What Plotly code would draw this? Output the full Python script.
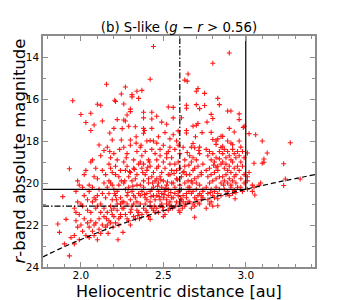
import plotly.graph_objects as go

# ---------------- data ----------------
# heliocentric distance [au] and r-band absolute magnitude of S-like objects
dist_a = [1.86, 1.87, 1.89, 1.90, 1.91, 1.93, 1.93, 1.94]
mag_a = [21.95, 22.35, 20.65, 22.9, 21.73, 23.47, 19.32, 22.6]

dist_b = [1.95, 1.96, 1.96, 1.97, 1.97, 1.98, 1.98, 1.99, 1.99, 2.00,
          2.00, 2.01, 2.01, 2.02, 2.02, 2.03, 2.03, 2.04, 2.04, 2.05,
          1.96, 1.98, 2.00, 2.02, 2.04, 1.97, 1.99, 2.01, 2.03, 2.05]
mag_b = [16.08, 21.2, 22.5, 20.4, 21.8, 22.1, 20.9, 21.5, 22.7, 16.74,
         21.0, 22.3, 20.2, 21.7, 19.6, 17.12, 22.5, 20.8, 21.3, 22.1,
         22.9, 19.9, 22.0, 20.6, 21.9, 21.4, 20.1, 21.1, 19.4, 20.4]

dist_c = [2.06, 2.10, 2.12, 2.06, 2.08, 2.13, 2.11, 2.14, 2.07, 2.09,
          2.05, 2.06, 2.07, 2.08, 2.09, 2.10, 2.11, 2.12, 2.13, 2.14,
          2.15, 2.05, 2.07, 2.09, 2.11, 2.13, 2.15, 2.06, 2.08, 2.10,
          2.12, 2.14, 2.06, 2.08, 2.10, 2.12, 2.14, 2.07, 2.09, 2.11,
          2.13, 2.15, 2.10, 2.12, 2.08]
mag_c = [16.68, 16.25, 16.3, 17.5, 17.24, 17.05, 18.19, 18.45, 18.9, 19.3,
         20.1, 21.4, 22.3, 20.7, 21.9, 19.8, 22.2, 21.0, 20.5, 21.6,
         22.1, 22.6, 20.9, 21.2, 20.3, 22.0, 19.6, 21.8, 22.5, 20.6,
         21.4, 20.0, 19.0, 19.7, 21.1, 22.4, 21.2, 20.2, 20.8, 21.7,
         19.4, 20.7, 22.7, 18.7, 22.0]

dist_d = [2.155, 2.205, 2.21, 2.245, 2.22, 2.175, 2.19, 2.245, 2.20, 2.25,
          2.175, 2.16, 2.17, 2.18, 2.19, 2.20, 2.21, 2.22, 2.23, 2.24,
          2.16, 2.17, 2.18, 2.19, 2.20, 2.21, 2.22, 2.23, 2.24, 2.25,
          2.16, 2.18, 2.20, 2.22, 2.24, 2.17, 2.19, 2.21, 2.23, 2.25,
          2.16, 2.18, 2.20, 2.22, 2.24, 2.165, 2.225, 2.23, 2.17, 2.19,
          2.21, 2.235, 2.185, 2.215, 2.245, 2.195, 2.155, 2.205, 2.24, 2.18]
mag_d = [15.3, 16.06, 16.12, 15.76, 16.98, 17.62, 17.95, 17.95, 17.4, 17.41,
         18.5, 18.3, 19.1, 18.8, 19.5, 18.6, 19.2, 18.9, 19.7, 19.4,
         20.2, 20.5, 20.0, 20.8, 20.3, 20.6, 21.0, 20.1, 20.7, 21.2,
         21.4, 21.1, 21.6, 21.3, 21.0, 21.8, 21.5, 21.9, 21.7, 20.9,
         22.0, 21.9, 21.2, 20.4, 21.5, 22.4, 22.7, 22.0, 19.9, 20.1,
         19.6, 18.4, 21.3, 20.8, 19.9, 22.1, 21.7, 20.5, 21.6, 19.3]

dist_e = [2.27, 2.26, 2.31, 2.31, 2.34, 2.35, 2.30, 2.30, 2.26, 2.27,
          2.28, 2.29, 2.33, 2.30, 2.335, 2.26, 2.28, 2.30, 2.32, 2.34,
          2.26, 2.27, 2.28, 2.29, 2.30, 2.31, 2.32, 2.33, 2.34, 2.35,
          2.26, 2.27, 2.28, 2.29, 2.30, 2.31, 2.32, 2.33, 2.34, 2.35,
          2.26, 2.28, 2.30, 2.32, 2.34, 2.27, 2.29, 2.31, 2.33, 2.35,
          2.26, 2.28, 2.30, 2.32, 2.34, 2.255, 2.275, 2.295, 2.315, 2.335,
          2.345, 2.265, 2.285, 2.305, 2.325]
mag_e = [15.43, 16.24, 15.79, 15.9, 15.63, 15.97, 16.48, 16.6, 17.0, 17.05,
         16.76, 17.3, 17.32, 17.95, 17.8, 18.3, 18.6, 18.2, 18.9, 18.5,
         19.0, 19.4, 19.2, 19.7, 19.5, 19.9, 19.3, 19.8, 19.6, 19.1,
         20.0, 20.3, 20.6, 20.2, 20.8, 20.4, 21.0, 20.7, 20.1, 20.5,
         21.2, 21.0, 21.4, 21.6, 21.3, 21.5, 21.8, 21.1, 21.7, 21.4,
         20.9, 21.7, 22.0, 20.6, 20.9, 22.35, 18.8, 19.45, 20.15, 18.1,
         21.55, 19.9, 20.45, 21.25, 19.35]

dist_f = [2.37, 2.42, 2.38, 2.38, 2.43, 2.43, 2.38, 2.385, 2.43, 2.38,
          2.40, 2.42, 2.44, 2.36, 2.37, 2.39, 2.41, 2.43, 2.45, 2.36,
          2.37, 2.38, 2.39, 2.40, 2.41, 2.42, 2.43, 2.44, 2.45, 2.36,
          2.37, 2.38, 2.39, 2.40, 2.41, 2.42, 2.43, 2.44, 2.45, 2.36,
          2.38, 2.40, 2.42, 2.44, 2.37, 2.39, 2.41, 2.43, 2.45, 2.36,
          2.38, 2.40, 2.42, 2.44, 2.355, 2.375, 2.395, 2.415, 2.435, 2.445,
          2.365, 2.385, 2.405, 2.425, 2.42]
mag_f = [15.59, 15.06, 16.63, 16.9, 16.63, 16.95, 17.4, 17.5, 17.4, 17.63,
         18.0, 17.98, 18.0, 18.3, 18.7, 18.5, 18.9, 18.4, 18.6, 19.0,
         19.3, 19.1, 19.6, 19.4, 19.8, 19.2, 19.7, 19.5, 19.9, 20.1,
         20.4, 20.2, 20.7, 20.5, 20.0, 20.9, 20.3, 20.6, 20.8, 21.0,
         21.2, 21.4, 21.1, 21.3, 21.5, 21.0, 21.6, 21.2, 21.4, 20.6,
         19.9, 20.8, 20.4, 20.2, 21.7, 19.5, 21.3, 19.0, 20.0, 21.1,
         18.2, 20.55, 19.25, 20.65, 21.73]

dist_g = [2.46, 2.47, 2.53, 2.49, 2.51, 2.52, 2.54, 2.46, 2.48, 2.50,
          2.52, 2.54, 2.46, 2.47, 2.48, 2.49, 2.50, 2.51, 2.52, 2.53,
          2.54, 2.55, 2.46, 2.47, 2.48, 2.49, 2.50, 2.51, 2.52, 2.53,
          2.54, 2.55, 2.46, 2.47, 2.48, 2.49, 2.50, 2.51, 2.52, 2.53,
          2.54, 2.55, 2.46, 2.48, 2.50, 2.52, 2.54, 2.47, 2.49, 2.51,
          2.53, 2.55, 2.465, 2.485, 2.505, 2.525, 2.545, 2.475, 2.495, 2.515,
          2.535, 2.46, 2.50, 2.53]
mag_g = [16.82, 17.8, 16.38, 17.1, 17.6, 17.2, 17.9, 18.1, 18.4, 18.2,
         18.6, 18.3, 18.9, 19.2, 18.7, 19.5, 19.0, 19.3, 18.8, 19.6,
         19.1, 19.4, 19.8, 20.0, 19.7, 20.2, 19.9, 20.4, 20.1, 20.3,
         19.6, 20.0, 20.6, 20.4, 20.8, 20.5, 20.7, 20.3, 21.0, 20.6,
         20.9, 21.1, 21.2, 21.1, 21.3, 20.8, 21.2, 21.4, 21.0, 21.5,
         21.3, 20.7, 20.15, 19.85, 20.55, 19.95, 20.45, 20.65, 21.15, 20.25,
         21.05, 19.3, 21.6, 18.5]

dist_h = [2.56, 2.56, 2.59, 2.59, 2.61, 2.63, 2.645, 2.65, 2.64, 2.64,
          2.64, 2.64, 2.56, 2.57, 2.58, 2.60, 2.62, 2.63, 2.55, 2.57,
          2.58, 2.59, 2.60, 2.61, 2.62, 2.63, 2.64, 2.65, 2.56, 2.57,
          2.58, 2.59, 2.60, 2.61, 2.62, 2.63, 2.64, 2.65, 2.56, 2.57,
          2.58, 2.59, 2.60, 2.61, 2.62, 2.63, 2.64, 2.65, 2.555, 2.575,
          2.595, 2.615, 2.635, 2.655, 2.565, 2.585, 2.605, 2.625, 2.645, 2.60]
mag_h = [16.4, 16.9, 17.52, 18.2, 16.89, 15.1, 15.15, 14.81, 16.3, 16.44,
         17.5, 17.62, 17.7, 18.4, 18.0, 18.6, 18.3, 18.9, 18.8, 19.1,
         19.4, 19.0, 19.3, 19.7, 19.5, 19.2, 19.6, 19.9, 20.0, 20.2,
         19.8, 20.4, 20.1, 20.3, 20.6, 20.0, 20.5, 20.2, 20.7, 20.5,
         20.9, 20.6, 21.0, 20.8, 20.9, 21.1, 20.7, 20.9, 21.2, 21.1,
         21.3, 21.2, 21.0, 20.4, 19.55, 19.85, 20.75, 19.45, 18.55, 21.4]

dist_i = [2.70, 2.71, 2.70, 2.72, 2.75, 2.75, 2.68, 2.70, 2.71, 2.68,
          2.67, 2.69, 2.72, 2.69, 2.66, 2.67, 2.68, 2.69, 2.70, 2.71,
          2.72, 2.73, 2.74, 2.66, 2.67, 2.68, 2.69, 2.70, 2.71, 2.72,
          2.73, 2.74, 2.66, 2.67, 2.68, 2.69, 2.70, 2.71, 2.72, 2.73,
          2.74, 2.66, 2.68, 2.70, 2.72, 2.74, 2.67, 2.69, 2.71, 2.73,
          2.655, 2.675, 2.695, 2.715, 2.735]
mag_i = [15.63, 15.5, 16.27, 16.46, 16.31, 15.73, 17.29, 17.25, 17.17, 18.12,
         18.29, 18.32, 18.29, 21.63, 18.7, 19.0, 18.8, 19.3, 18.9, 19.2,
         18.6, 19.5, 19.1, 19.6, 19.9, 19.4, 19.8, 20.0, 19.7, 20.1,
         19.6, 20.3, 20.2, 20.5, 20.4, 20.7, 20.3, 20.6, 20.5, 20.8,
         20.4, 20.9, 21.0, 20.8, 21.0, 20.7, 21.2, 21.1, 20.95, 20.6,
         19.15, 20.0, 17.8, 18.45, 17.6]

dist_j = [2.76, 2.79, 2.80, 2.79, 2.80, 2.80, 2.83, 2.84, 2.82, 2.85,
          2.83, 2.82, 2.85, 2.83, 2.76, 2.77, 2.78, 2.79, 2.80, 2.81,
          2.82, 2.83, 2.84, 2.85, 2.76, 2.77, 2.78, 2.79, 2.80, 2.81,
          2.82, 2.83, 2.84, 2.85, 2.76, 2.77, 2.78, 2.79, 2.80, 2.81,
          2.82, 2.83, 2.84, 2.85, 2.77, 2.79, 2.81, 2.83, 2.78, 2.80,
          2.82, 2.84, 2.765, 2.785, 2.805]
mag_j = [21.2, 16.73, 16.93, 17.59, 17.93, 14.3, 15.97, 16.27, 18.16, 17.78,
         17.9, 18.0, 18.31, 21.08, 18.4, 18.7, 18.5, 18.9, 18.6, 19.0,
         18.8, 19.2, 18.5, 19.1, 19.4, 19.7, 19.3, 19.6, 19.9, 19.5,
         19.8, 19.4, 19.7, 20.0, 20.2, 20.5, 20.0, 20.3, 20.6, 20.4,
         20.2, 20.5, 20.3, 20.6, 20.8, 20.9, 20.7, 20.75, 21.0, 21.1,
         19.25, 18.85, 17.1, 20.45, 19.15]

dist_k = [2.86, 2.86, 2.89, 2.91, 2.90, 2.93, 2.89, 2.91, 2.92, 2.90,
          2.86, 2.87, 2.88, 2.89, 2.90, 2.91, 2.92, 2.93, 2.94, 2.95,
          2.86, 2.87, 2.88, 2.89, 2.90, 2.91, 2.92, 2.93, 2.94, 2.95,
          2.86, 2.87, 2.88, 2.89, 2.90, 2.91, 2.92, 2.93, 2.94, 2.95,
          2.87, 2.89, 2.91, 2.93, 2.88, 2.90, 2.92, 2.94, 2.865, 2.935]
mag_k = [17.78, 18.25, 16.57, 16.57, 17.4, 17.57, 18.0, 18.1, 18.18, 13.81,
         18.6, 18.4, 18.8, 18.5, 18.7, 18.9, 18.4, 18.6, 18.8, 18.5,
         19.0, 19.3, 19.1, 19.4, 19.2, 19.5, 19.0, 19.3, 19.6, 19.2,
         19.7, 19.9, 19.6, 20.0, 19.8, 20.1, 19.9, 19.7, 20.0, 20.2,
         20.3, 20.4, 20.2, 20.35, 20.55, 20.6, 20.5, 20.45, 20.1, 20.75]

dist_l = [2.96, 2.96, 2.99, 2.985, 2.96, 2.97, 3.02, 3.01, 3.05, 3.01,
          3.01, 3.02, 3.04, 3.05, 3.055, 3.04, 3.01, 2.96, 2.97, 2.98,
          2.99, 2.96, 2.97, 2.98, 2.99, 2.97, 2.98, 2.99]
mag_l = [16.71, 16.98, 17.3, 17.36, 18.0, 18.29, 17.65, 18.57, 19.06, 19.7,
         19.9, 19.5, 20.1, 20.2, 20.57, 20.4, 20.3, 18.7, 19.0, 18.5,
         18.8, 19.4, 19.8, 19.2, 20.0, 20.2, 20.4, 19.6]

dist_m = [3.06, 3.10, 3.27, 3.13, 3.10, 3.11, 3.11, 3.23, 3.24, 3.33,
          3.23, 3.09, 3.08, 2.44]
mag_m = [17.7, 18.0, 18.08, 18.57, 19.06, 19.01, 18.86, 19.08, 19.81, 19.81,
         20.12, 20.0, 20.1, 13.5]

# detection-limit curve (dashed)
limit_r = [1.77, 1.8, 1.9, 2.0, 2.1, 2.2, 2.3, 2.4, 2.5, 2.6, 2.7, 2.8,
           2.9, 3.0, 3.1, 3.2, 3.3, 3.42]
limit_H = [23.52, 23.40, 23.03, 22.69, 22.37, 22.08, 21.81, 21.56, 21.32,
           21.10, 20.88, 20.68, 20.48, 20.30, 20.12, 19.95, 19.79, 19.60]

# sample boundaries
x_min, x_max = 1.77, 3.42
y_faint, y_bright = 24, 13
solid_r, solid_H = 3.0, 20.3
dashdot_r, dashdot_H = 2.6, 21.1

title_text = "(b) S-like (<i>g</i> − <i>r</i> > 0.56)"
x_title = "Heliocentric distance [au]"
y_title = "<i>r</i>-band absolute magnitude"

dist = (dist_a + dist_b + dist_c + dist_d + dist_e + dist_f + dist_g
        + dist_h + dist_i + dist_j + dist_k + dist_l + dist_m)
mag = (mag_a + mag_b + mag_c + mag_d + mag_e + mag_f + mag_g
       + mag_h + mag_i + mag_j + mag_k + mag_l + mag_m)
assert len(dist) == len(mag), (len(dist), len(mag))

FONT = "DejaVu Sans"
AXC = "#8c8c8c"

fig = go.Figure()

fig.add_trace(go.Scatter(
    x=dist, y=mag, mode="markers",
    marker=dict(symbol="cross-thin", size=3.6, color="red",
                line=dict(color="red", width=1.1)),
    opacity=0.9, showlegend=False, hoverinfo="skip"))

# detection limit (dashed)
fig.add_trace(go.Scatter(
    x=limit_r, y=limit_H, mode="lines", line_shape="spline",
    line=dict(color="black", width=1.2, dash="5px,3px"),
    showlegend=False, hoverinfo="skip"))

# solid boundary
fig.add_trace(go.Scatter(
    x=[x_min, solid_r, solid_r], y=[solid_H, solid_H, y_bright],
    mode="lines", line=dict(color="black", width=1.2),
    showlegend=False, hoverinfo="skip"))

# dash-dot boundary
fig.add_trace(go.Scatter(
    x=[x_min, dashdot_r, dashdot_r], y=[dashdot_H, dashdot_H, y_bright],
    mode="lines", line=dict(color="black", width=1.2, dash="6px,2px,1.5px,2px"),
    showlegend=False, hoverinfo="skip"))

# page body adds an 8px offset; margins compensate so the plot box sits at
# x 43..315, y 36..267 in the window
fig.update_layout(
    width=350, height=300,
    margin=dict(l=35, r=43, t=28, b=41),
    paper_bgcolor="white", plot_bgcolor="white",
    font=dict(family=FONT, size=10.5, color="black"),
    title=dict(text=title_text, x=0.5, xref="paper", xanchor="center",
               y=1 - 19 / 300, yref="container", yanchor="middle",
               font=dict(family=FONT, size=13.3, color="black")),
    annotations=[
        dict(text=x_title, xref="paper", yref="paper", x=0.5,
             y=-24 / 231, xanchor="center", yanchor="middle",
             showarrow=False, font=dict(family=FONT, size=16)),
        dict(text=y_title, xref="paper", yref="paper", x=-24 / 272,
             y=0.5, xanchor="center", yanchor="middle", textangle=-90,
             showarrow=False, font=dict(family=FONT, size=16.5)),
    ],
)

fig.update_xaxes(
    range=[x_min, x_max], showgrid=False, zeroline=False,
    showline=True, linecolor=AXC, linewidth=1.5, mirror="ticks",
    ticks="inside", ticklen=5, tickwidth=1, tickcolor=AXC,
    tick0=0, dtick=0.5, tickformat=".1f", ticklabelstandoff=-2,
    minor=dict(ticks="inside", ticklen=3, tickwidth=1, tickcolor=AXC,
               dtick=0.1, tick0=0, showgrid=False),
)
fig.update_yaxes(
    range=[y_faint, y_bright], showgrid=False, zeroline=False,
    showline=True, linecolor=AXC, linewidth=1.5, mirror="ticks",
    ticks="inside", ticklen=5, tickwidth=1, tickcolor=AXC,
    tick0=0, dtick=2,
    minor=dict(ticks="inside", ticklen=3, tickwidth=1, tickcolor=AXC,
               dtick=1, tick0=0, showgrid=False),
)

fig.write_html("out.html")
